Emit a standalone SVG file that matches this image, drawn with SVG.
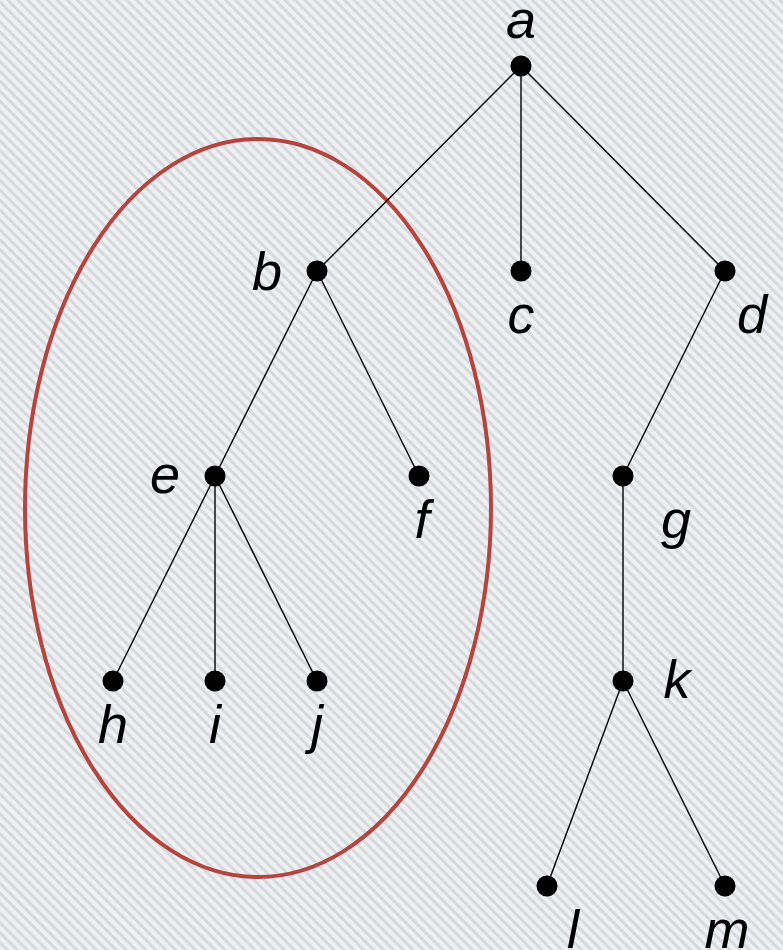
<svg xmlns="http://www.w3.org/2000/svg" width="783" height="950" viewBox="0 0 783 950">
<defs>
<pattern id="bg" width="7" height="7" patternUnits="userSpaceOnUse" patternTransform="rotate(45)">
<rect width="7" height="7" fill="#eef0f2"/>
<rect width="7" height="3" fill="#d6d9dd"/>
</pattern>
<style>
.e{stroke:#000;stroke-width:1.4;fill:none}
.n{fill:#000}
.t{font-family:"Liberation Sans",Arial,sans-serif;font-style:italic;font-size:54px;fill:#000;text-anchor:middle}
</style>
</defs>
<rect width="783" height="950" fill="url(#bg)"/>
<ellipse cx="258" cy="508" rx="233" ry="369" fill="none" stroke="#b5443f" stroke-width="4"/>
<g id="edges">
<line class="e" x1="521" y1="66" x2="317" y2="271"/>
<line class="e" x1="521" y1="66" x2="521" y2="271"/>
<line class="e" x1="521" y1="66" x2="725" y2="271"/>
<line class="e" x1="317" y1="271" x2="215" y2="476"/>
<line class="e" x1="317" y1="271" x2="419" y2="476"/>
<line class="e" x1="725" y1="271" x2="623" y2="476"/>
<line class="e" x1="215" y1="476" x2="113" y2="681"/>
<line class="e" x1="215" y1="476" x2="215" y2="681"/>
<line class="e" x1="215" y1="476" x2="317" y2="681"/>
<line class="e" x1="623" y1="476" x2="623" y2="681"/>
<line class="e" x1="623" y1="681" x2="547" y2="886"/>
<line class="e" x1="623" y1="681" x2="725" y2="886"/>
</g>
<g id="a"><circle class="n" cx="521" cy="66" r="10.5"/><text class="t" x="521" y="38">a</text></g>
<g id="b"><circle class="n" cx="317" cy="271" r="10.5"/><text class="t" x="267" y="290">b</text></g>
<g id="c"><circle class="n" cx="521" cy="271" r="10.5"/><text class="t" x="521" y="333">c</text></g>
<g id="d"><circle class="n" cx="725" cy="271" r="10.5"/><text class="t" x="752" y="333">d</text></g>
<g id="e"><circle class="n" cx="215" cy="476" r="10.5"/><text class="t" x="165" y="493">e</text></g>
<g id="f"><circle class="n" cx="419" cy="476" r="10.5"/><text class="t" x="422" y="538">f</text></g>
<g id="g"><circle class="n" cx="623" cy="476" r="10.5"/><text class="t" x="676" y="538">g</text></g>
<g id="h"><circle class="n" cx="113" cy="681" r="10.5"/><text class="t" x="113" y="743">h</text></g>
<g id="i"><circle class="n" cx="215" cy="681" r="10.5"/><text class="t" x="215" y="743">i</text></g>
<g id="j"><circle class="n" cx="317" cy="681" r="10.5"/><text class="t" x="317" y="743">j</text></g>
<g id="k"><circle class="n" cx="623" cy="681" r="10.5"/><text class="t" x="677" y="698">k</text></g>
<g id="l"><circle class="n" cx="547" cy="886" r="10.5"/><text class="t" x="573" y="948">l</text></g>
<g id="m"><circle class="n" cx="725" cy="886" r="10.5"/><text class="t" x="727" y="948">m</text></g>
</svg>
